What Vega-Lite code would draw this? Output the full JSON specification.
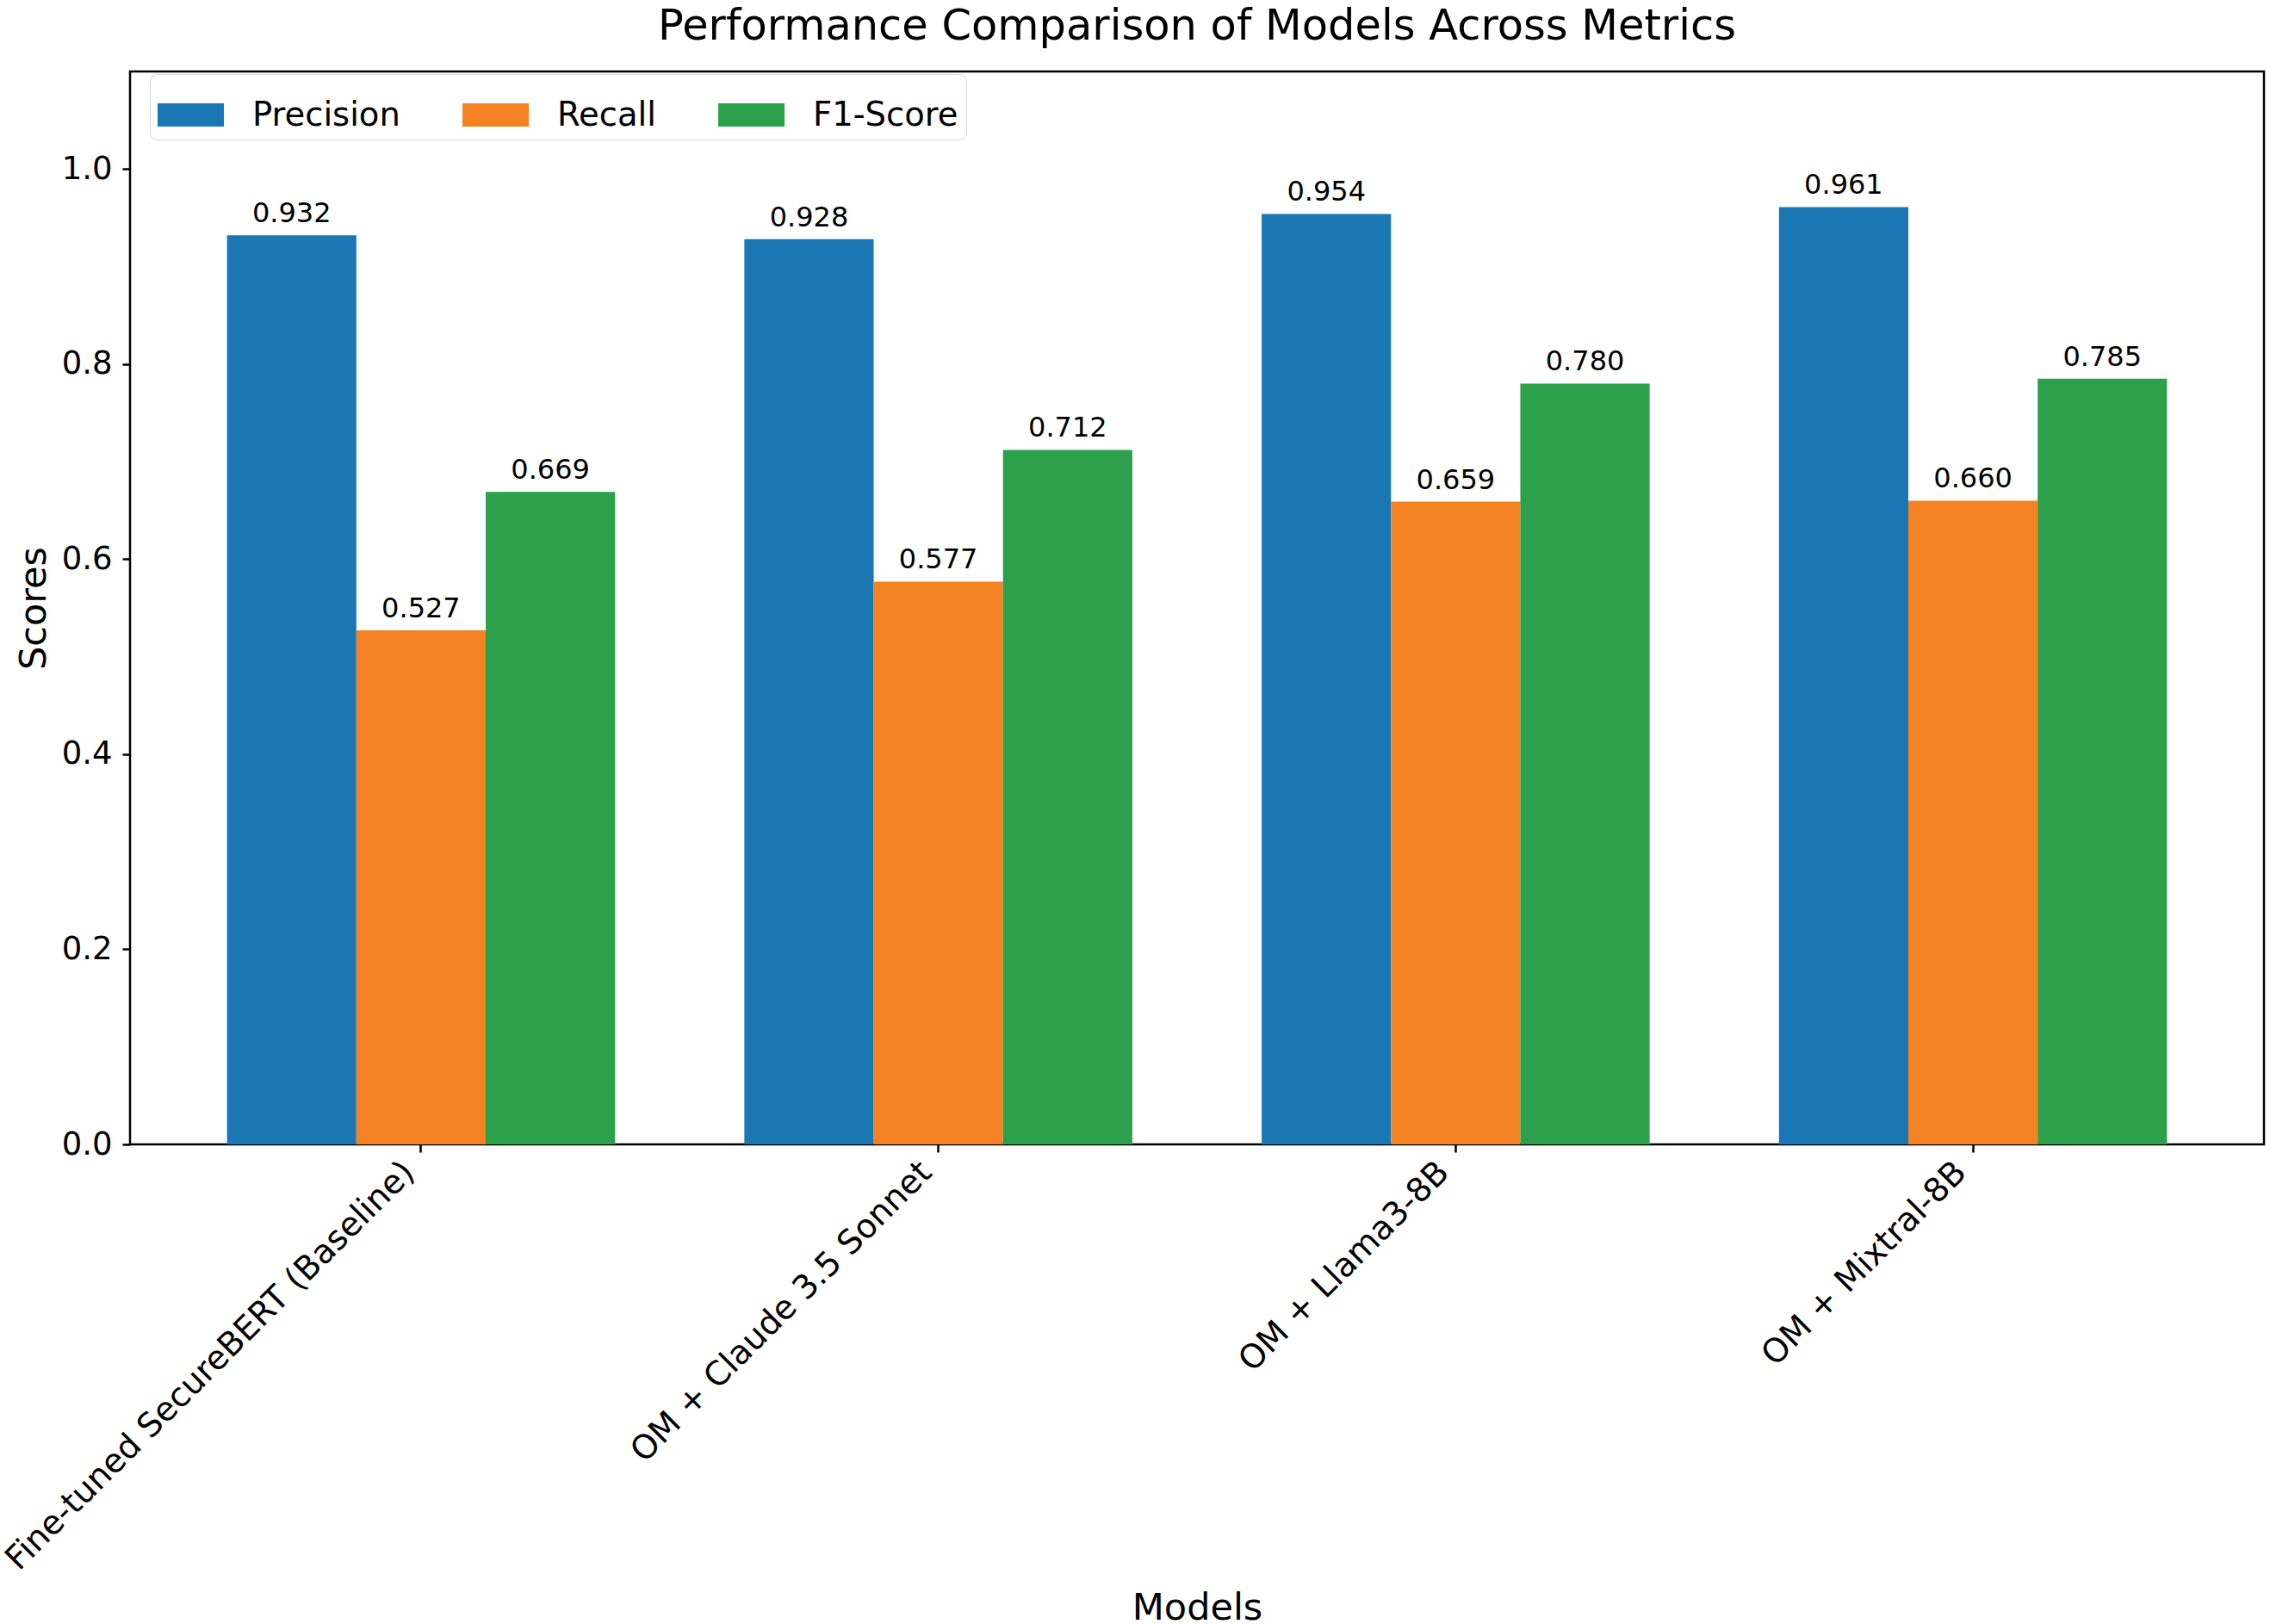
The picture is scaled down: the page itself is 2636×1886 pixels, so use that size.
{
  "$schema": "https://vega.github.io/schema/vega-lite/v6.json",
  "autosize": {"type": "none"},
  "padding": {"left": 151, "top": 83, "right": 7, "bottom": 557},
  "width": 2478,
  "height": 1246,
  "background": "white",
  "config": {
    "font": "DejaVu Sans",
    "view": {"stroke": "black", "strokeWidth": 2.5},
    "axis": {"domain": false, "grid": false, "tickColor": "black", "tickWidth": 2.5, "tickSize": 9, "labelColor": "black", "labelFont": "DejaVu Sans", "labelFontSize": 37, "titleFont": "DejaVu Sans", "titleFontSize": 43, "titleFontWeight": "normal", "titleColor": "black"}
  },
  "title": {"text": "Performance Comparison of Models Across Metrics", "font": "DejaVu Sans", "fontSize": 49.5, "fontWeight": "normal", "color": "black", "anchor": "middle", "frame": "group", "baseline": "alphabetic", "offset": -12},
  "data": {"values": [
    {"Model": "Fine-tuned SecureBERT (Baseline)", "Metric": "Precision", "Score": 0.932},
    {"Model": "Fine-tuned SecureBERT (Baseline)", "Metric": "Recall", "Score": 0.527},
    {"Model": "Fine-tuned SecureBERT (Baseline)", "Metric": "F1-Score", "Score": 0.669},
    {"Model": "OM + Claude 3.5 Sonnet", "Metric": "Precision", "Score": 0.928},
    {"Model": "OM + Claude 3.5 Sonnet", "Metric": "Recall", "Score": 0.577},
    {"Model": "OM + Claude 3.5 Sonnet", "Metric": "F1-Score", "Score": 0.712},
    {"Model": "OM + Llama3-8B", "Metric": "Precision", "Score": 0.954},
    {"Model": "OM + Llama3-8B", "Metric": "Recall", "Score": 0.659},
    {"Model": "OM + Llama3-8B", "Metric": "F1-Score", "Score": 0.780},
    {"Model": "OM + Mixtral-8B", "Metric": "Precision", "Score": 0.961},
    {"Model": "OM + Mixtral-8B", "Metric": "Recall", "Score": 0.660},
    {"Model": "OM + Mixtral-8B", "Metric": "F1-Score", "Score": 0.785}
  ]},
  "encoding": {
    "x": {"field": "Model", "type": "nominal", "sort": null,
      "scale": {"paddingInner": 0.25, "paddingOuter": 0.1875},
      "axis": {"title": "Models", "labelAngle": -45, "labelAlign": "right", "labelBaseline": "bottom", "labelPadding": 31, "labelFontSize": 38.5, "labelLimit": 0, "titleX": 1239, "titleY": 551, "titleBaseline": "alphabetic", "titleAlign": "center", "titleAnchor": null}},
    "xOffset": {"field": "Metric", "type": "nominal", "sort": ["Precision", "Recall", "F1-Score"], "scale": {"paddingInner": 0, "paddingOuter": 0}},
    "y": {"field": "Score", "type": "quantitative",
      "scale": {"domain": [0, 1.1], "nice": false, "zero": true},
      "axis": {"title": "Scores", "values": [0, 0.2, 0.4, 0.6, 0.8, 1.0], "format": ".1f", "labelPadding": 12, "titleX": -99, "titleY": 623, "titleAngle": -90, "titleBaseline": "alphabetic", "titleAlign": "center", "titleAnchor": null}}
  },
  "layer": [
    {"mark": {"type": "bar", "stroke": null},
     "encoding": {
       "color": {"field": "Metric", "type": "nominal", "sort": ["Precision", "Recall", "F1-Score"],
         "scale": {"domain": ["Precision", "Recall", "F1-Score"], "range": ["#1b77b4", "#f48222", "#2ca04a"]},
         "legend": {"title": null, "orient": "none", "legendX": 23, "legendY": 3, "direction": "horizontal", "columns": 3,
           "symbolType": "M-1,-0.35L1,-0.35L1,0.35L-1,0.35Z", "symbolSize": 5929, "symbolStrokeWidth": 0, "symbolOpacity": 1,
           "labelFont": "DejaVu Sans", "labelFontSize": 38.5, "labelColor": "black", "labelOffset": 33, "labelLimit": 0, "columnPadding": 72,
           "padding": 9, "strokeColor": "#d6d6d6", "fillColor": "white", "cornerRadius": 8,
           "encode": {"legend": {"update": {"strokeWidth": {"value": 2.5}}}}}}
     }},
    {"mark": {"type": "text", "baseline": "alphabetic", "align": "center", "dy": -15, "fontSize": 32, "font": "DejaVu Sans", "color": "black"},
     "encoding": {"text": {"field": "Score", "type": "quantitative", "format": ".3f"}}}
  ]
}
